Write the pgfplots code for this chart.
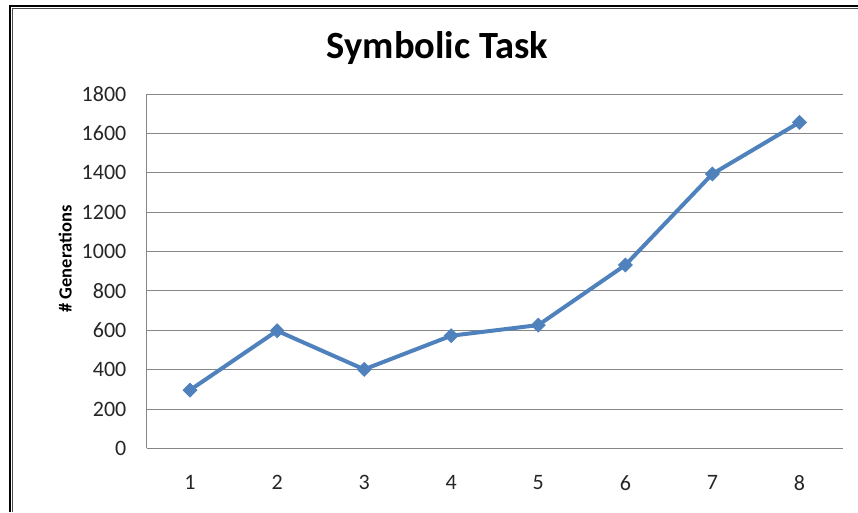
\documentclass[border=0pt]{standalone}
\usepackage{fontspec}
\setmainfont{Carlito}
\usepackage{pgfplots}
\pgfplotsset{compat=1.18}
\definecolor{exblue}{RGB}{79,129,189}
\definecolor{gridgray}{RGB}{134,134,134}
\begin{document}
\begin{tikzpicture}[x=1pt,y=1pt]
\path[use as bounding box] (0,0) rectangle (858,-512);
% chart border
\draw[line width=2.2pt,line join=miter] (10.2,-512) -- (10.2,-6.2) -- (858,-6.2);
\draw[line width=0.9pt,color=black!70,line join=miter] (12.6,-512) -- (12.6,-8.4) -- (858,-8.4);
\begin{axis}[
  at={(146.5pt,-448.3pt)}, anchor=south west,
  scale only axis, width=696.5pt, height=354.3pt,
  xmin=0.5, xmax=8.5, ymin=0, ymax=1800,
  xtick={1,...,8}, ytick={0,200,...,1800},
  axis x line=bottom, axis y line=left,
  axis line style={-, draw=gridgray, line width=0.8pt},
  major tick length=0pt,
  ymajorgrids, grid style={draw=gridgray, line width=0.8pt},
  /pgf/number format/assume math mode=true,
  /pgf/number format/1000 sep={},
  ticklabel style={font=\fontsize{22}{26}\selectfont, text=black!85, inner sep=0pt},
  yticklabel style={anchor=east, xshift=-20pt},
  xticklabel style={anchor=north, yshift=-26.7pt},
  clip=false,
]
\addplot[color=exblue, line width=4pt, mark=square*,
  mark size=4.8pt, mark options={rotate=45, fill=exblue, draw=exblue, line width=1pt}]
  coordinates {(1,296) (2,597) (3,401) (4,572) (5,626) (6,931) (7,1394) (8,1656)};
\end{axis}
\node[anchor=base, font=\fontsize{38.5}{42}\selectfont\bfseries] at (437.5,-58) {Symbolic Task};
\node[anchor=base, rotate=90, font=\fontsize{18.5}{22}\selectfont\bfseries] at (71.7,-259) {\# Generations};
\end{tikzpicture}
\end{document}
